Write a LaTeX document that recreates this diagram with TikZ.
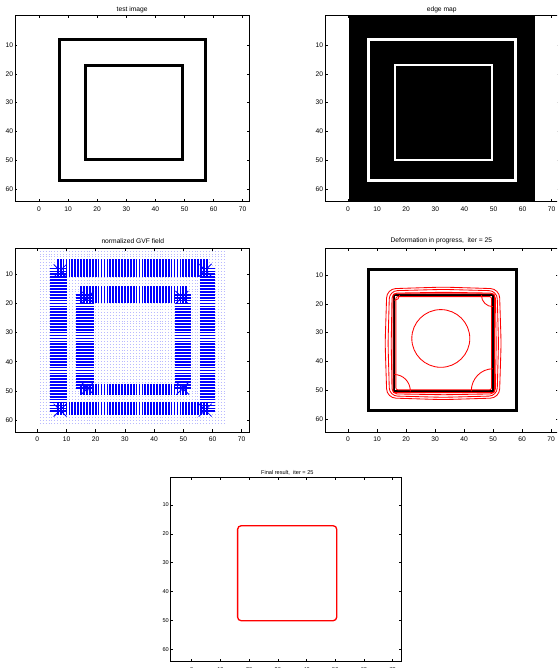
\documentclass[tikz,border=0pt]{standalone}
\usepackage{fontspec}
\setmainfont{Liberation Sans}
\usetikzlibrary{arrows.meta}

\definecolor{gvfblue}{RGB}{0,0,255}
\definecolor{gvfpale}{RGB}{185,185,255}

% box, inward ticks and tick labels of one panel: name, xmin, ymin, xmax, ymax
\newcommand\panelaxes[5]{%
  \draw[axisline] (#2,#3) rectangle (#4,#5);
  \foreach \t in {0,10,...,70} {
    \draw[tickmark] (\t,#5) -- ++(0pt,2.5pt);
    \draw[tickmark] (\t,#3) -- ++(0pt,-2.5pt);
    \node[xticklabel] (#1x\t) at (\t,#5) {\t};
  }
  \foreach \t in {10,20,...,60} {
    \draw[tickmark] (#2,\t) -- ++(2.5pt,0pt);
    \draw[tickmark] (#4,\t) -- ++(-2.5pt,0pt);
    \node[yticklabel] (#1y\t) at (#2,\t) {\t};
  }
}

\begin{document}
\begin{tikzpicture}[x=1pt,y=-1pt,
  axisline/.style={draw=black,line width=0.8pt},
  tickmark/.style={line width=0.6pt},
  xticklabel/.style={anchor=center,yshift=-7.5pt,inner sep=0pt},
  yticklabel/.style={anchor=east,xshift=-1.8pt,inner sep=0pt},
  plottitle/.style={inner sep=0pt},
  testsquare/.style={line width=2.7pt},
  edgesquare/.style={draw=white,line width=2.4pt},
  gvfdot/.style={draw=gvfpale,line width=0.8pt,dash pattern=on 0.8pt off 2.12pt},
  gvfarrow/.style={draw=gvfblue,line width=1.7pt},
  gvfstar/.style={draw=gvfblue,line width=0.8pt,-{Stealth[length=2.2pt,width=2pt]}},
  snake/.style={draw=red,line width=0.85pt},
  panelfont/.style={font=\fontsize{6.7}{8}\selectfont},
  finalfont/.style={font=\fontsize{5.6}{6.7}\selectfont}
]
\clip (0,0) rectangle (557,668);

% test image
\begin{scope}[shift={(39pt,-16.1pt)},x=2.91pt,y=-2.886pt,panelfont]
  \draw[testsquare] (7,8.1) rectangle (57.3,57);
  \draw[testsquare] (16,17) rectangle (49.4,49.8);
  \node[plottitle] (title1) at (32,-2.2) {test image};
  \panelaxes{p1}{-8.25}{-0.2}{72.2}{64.2}
\end{scope}

% edge map
\begin{scope}[shift={(348pt,-16.1pt)},x=2.91pt,y=-2.886pt,panelfont]
  \fill (0.5,-0.2) rectangle (64.3,64.2);
  \draw[edgesquare] (7,8.1) rectangle (57.5,57);
  \draw[edgesquare] (16.2,17) rectangle (49.5,49.8);
  \node[plottitle] (title2) at (32.2,-2.1) {edge map};
  \panelaxes{p2}{-7.9}{-0.2}{72.6}{64.2}
\end{scope}

% normalized GVF field
\begin{scope}[shift={(37.3pt,-245.2pt)},x=2.92pt,y=-2.914pt,panelfont]
  \foreach \r in {2,...,61}
    \draw[gvfdot] (0.86,\r) -- (64.3,\r);
  \foreach \c in {7,...,58} {
    \draw[gvfarrow] (\c,4.8) -- (\c,10.8);
    \draw[gvfarrow] (\c,53.7) -- (\c,58.3);
  }
  \foreach \r in {8,...,57} {
    \draw[gvfarrow] (4.2,\r) -- (10.2,\r);
    \draw[gvfarrow] (55.6,\r) -- (60.9,\r);
  }
  \foreach \c in {15,...,51} {
    \draw[gvfarrow] (\c,14) -- (\c,19.7);
    \draw[gvfarrow] (\c,47.5) -- (\c,51.4);
  }
  \foreach \r in {17,...,49} {
    \draw[gvfarrow] (13.4,\r) -- (19.3,\r);
    \draw[gvfarrow] (47.3,\r) -- (52.6,\r);
  }
  \foreach \cx/\cy in {7.8/8.8,57.5/8.6,7.8/56.6,57.5/56.6,17.2/17.9,49.5/17.9,17.2/49.1,49.8/49.1}
    \foreach \dx/\dy in {-1/-1,1/-1,-1/1,1/1}
      \draw[gvfstar] ({\cx+2.2*\dx},{\cy+2.2*\dy}) -- ({\cx+0.3*\dx},{\cy+0.3*\dy});
  \node[plottitle] (title3) at (32.7,-1.5) {normalized GVF field};
  \panelaxes{p3}{-7.65}{1.06}{72.8}{64.1}
\end{scope}

% deformation in progress
\begin{scope}[shift={(348pt,-246.1pt)},x=2.9pt,y=-2.886pt,panelfont]
  \draw[testsquare] (7,8) rectangle (58,57);
  \draw[line width=2pt] (16,17) rectangle (50,50.3);
  \draw[snake] (32,32) circle [radius=10];
  \foreach \l/\t/\r/\b/\g/\k in {13.4/14.8/52.2/52.6/0.6/9,14.3/15.5/51.4/51.9/0.5/8,15.2/16.3/50.8/51.2/0.3/5}
    \draw[snake,rounded corners=\k pt] (\l,\t) -- ({(\l+\r)/2},{\t-\g}) -- (\r,\t)
      -- ({\r+\g},{(\t+\b)/2}) -- (\r,\b) -- ({(\l+\r)/2},{\b+\g}) -- (\l,\b)
      -- ({\l-\g},{(\t+\b)/2}) -- cycle;
  \draw[snake,rounded corners=2pt] (15.5,16.5) rectangle (50.5,50.8);
  \draw[snake,rounded corners=2pt] (16.5,17.5) rectangle (49.5,49.8);
  \draw[snake,line width=1.2pt] (16,50.6) -- (50,50.6);
  \draw[snake] (46,17) .. controls (46,19.2) and (47.8,21) .. (50,21);
  \draw[snake] (16,44.5) .. controls (19,44.5) and (21.5,47) .. (21.5,50.3);
  \draw[snake] (42.5,50.3) .. controls (42.5,45.9) and (45.9,42.5) .. (50,42.5);
  \draw[snake] (17.8,17) .. controls (17.8,18) and (17,18.8) .. (16,18.8);
  \node[plottitle] (title4) at (32.2,-1.9) {Deformation in progress,\ \ iter = 25};
  \panelaxes{p4}{-7.9}{0.76}{72.6}{64.4}
\end{scope}

% final result
\begin{scope}[shift={(191.7pt,-476.1pt)},x=2.871pt,y=-2.886pt,finalfont]
  \draw[snake,line width=1.3pt,rounded corners=3.5pt] (16,17.2) rectangle (50.5,50.1);
  \node[plottitle] (title5) at (33.3,-1.3) {Final result,\ \ iter = 25};
  \panelaxes{p5}{-7.3}{0.4}{73.1}{64.3}
\end{scope}
\end{tikzpicture}
\end{document}
